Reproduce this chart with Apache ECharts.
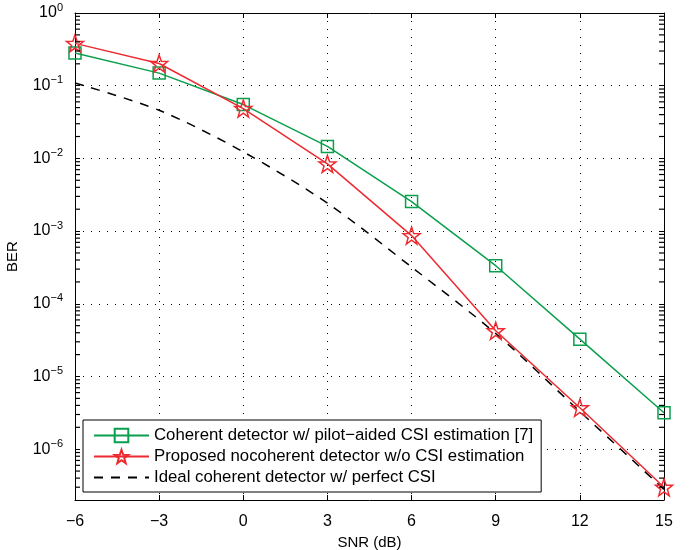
<!DOCTYPE html>
<html>
<head>
<meta charset="utf-8">
<script src="https://cdn.jsdelivr.net/npm/echarts@6/dist/echarts.min.js"></script>
<style>
  html, body { margin: 0; padding: 0; background: #fff; }
  #chart { width: 694px; height: 550px; }
</style>
</head>
<body>
<div id="chart"></div>
<script>
// SNR points (dB)
var snr = [-6, -3, 0, 3, 6, 9, 12, 15];

// BER
var coherent = [0.281, 0.149, 0.055, 0.0146, 0.00255, 3.34e-4, 3.26e-5, 3.17e-6];
var proposed = [0.382, 0.202, 0.0485, 0.0084, 8.67e-4, 4.25e-5, 3.71e-6, 2.99e-7];
var ideal = [0.109, 0.0459, 0.0123, 0.00242, 3.2e-4, 3.9e-5, 3.3e-6, 2.8e-7];

// decades for the log minor ticks (2..9 x 10^k)
var decades = [1e-7, 1e-6, 1e-5, 1e-4, 1e-3, 1e-2, 1e-1];
var minorSteps = [2, 3, 4, 5, 6, 7, 8, 9];

var names = [
  "Coherent detector w/ pilot\u2212aided CSI estimation [7]",
  "Proposed nocoherent detector w/o CSI estimation",
  "Ideal coherent detector w/ perfect CSI"
];

var font = "Liberation Sans";
var green = "#0a9f4c";
var red = "#ec2a30";
var yMin = 2e-7, yMax = 1;
var xMin = -6, xMax = 15;

function zip(xs, ys) {
  return xs.map(function (x, i) { return [x, ys[i]]; });
}

// five point star as svg path
function starPath() {
  var pts = [];
  for (var i = 0; i < 10; i++) {
    var r = i % 2 === 0 ? 50 : 20;
    var a = -Math.PI / 2 + i * Math.PI / 5;
    pts.push((50 + r * Math.cos(a)).toFixed(2) + "," + (50 + r * Math.sin(a)).toFixed(2));
  }
  return "path://M" + pts.join("L") + "Z";
}

var minorLeft = [], minorRight = [];
decades.forEach(function (d) {
  minorSteps.forEach(function (m) {
    var v = d * m;
    if (v > yMin && v < yMax) {
      minorLeft.push([xMin, v]);
      minorRight.push([xMax, v]);
    }
  });
});

var myChart = echarts.init(document.getElementById("chart"));

var yLabel = {
  fontFamily: font,
  color: "#000",
  margin: 12,
  formatter: function (v) {
    var e = Math.log10(v);
    if (Math.abs(e - Math.round(e)) > 1e-6) return "";
    e = Math.round(e);
    var s = e < 0 ? "\u2212" + (-e) : "" + e;
    return "{b|10}{s|" + s + "}";
  },
  rich: {
    b: { fontSize: 16, fontFamily: font, color: "#000" },
    s: { fontSize: 11, fontFamily: font, color: "#000", padding: [0, 0, 11, 0] }
  }
};

var boxTick = { inside: true, length: 5, lineStyle: { color: "#000", width: 1 } };

// short inside ticks at 2..9 x 10^k, left and right frame
function minorSeries(data, dx) {
  return {
    name: "minor",
    type: "scatter",
    silent: true,
    clip: false,
    data: data,
    symbol: "rect",
    symbolSize: [5, 1.2],
    symbolOffset: [dx, 0],
    itemStyle: { color: "#000", opacity: 1 },
    z: 5
  };
}

myChart.setOption({
  animation: false,
  backgroundColor: "#fff",
  grid: { left: 75, right: 30, top: 13, bottom: 50, outerBoundsMode: "none" },
  legend: {
    orient: "vertical",
    left: 83,
    top: 420,
    padding: [7, 8, 6, 10],
    itemGap: 4,
    itemWidth: 55,
    itemHeight: 17,
    backgroundColor: "#fff",
    borderColor: "#000",
    borderWidth: 1,
    borderRadius: 0,
    textStyle: { fontFamily: font, fontSize: 16.8, color: "#000" },
    data: names
  },
  xAxis: [
    {
      type: "value",
      min: xMin,
      max: xMax,
      interval: 3,
      name: "SNR (dB)",
      nameLocation: "middle",
      nameGap: 34,
      nameTextStyle: { fontFamily: font, fontSize: 15, color: "#000" },
      axisLine: { onZero: false, lineStyle: { color: "#000", width: 1 } },
      axisTick: boxTick,
      axisLabel: {
        fontFamily: font, fontSize: 16, color: "#000", margin: 14,
        formatter: function (v) { return v < 0 ? "\u2212" + (-v) : "" + v; }
      },
      splitLine: { show: true, lineStyle: { color: "#000", type: [1, 7], width: 1 } }
    },
    {
      type: "value",
      position: "top",
      min: xMin,
      max: xMax,
      interval: 3,
      axisLine: { onZero: false, lineStyle: { color: "#000", width: 1 } },
      axisTick: boxTick,
      axisLabel: { show: false },
      splitLine: { show: false }
    }
  ],
  yAxis: [
    {
      type: "log",
      logBase: 10,
      min: yMin,
      max: yMax,
      name: "BER",
      nameLocation: "middle",
      nameGap: 55,
      nameTextStyle: { fontFamily: font, fontSize: 15, color: "#000" },
      axisLine: { show: true, onZero: false, lineStyle: { color: "#000", width: 1 } },
      axisTick: boxTick,
      axisLabel: yLabel,
      splitLine: { show: true, lineStyle: { color: "#000", type: [1, 7], width: 1 } }
    },
    {
      type: "log",
      logBase: 10,
      min: yMin,
      max: yMax,
      position: "right",
      axisLine: { show: true, onZero: false, lineStyle: { color: "#000", width: 1 } },
      axisTick: boxTick,
      axisLabel: { show: false },
      splitLine: { show: false }
    }
  ],
  series: [
    {
      name: names[0],
      type: "line",
      data: zip(snr, coherent),
      symbol: "rect",
      symbolSize: 12,
      lineStyle: { color: green, width: 1.5 },
      itemStyle: { color: "rgba(255,255,255,0)", borderColor: green, borderWidth: 1.5 },
      z: 3
    },
    {
      name: names[1],
      type: "line",
      data: zip(snr, proposed),
      symbol: starPath(),
      symbolSize: 17,
      lineStyle: { color: red, width: 1.5 },
      itemStyle: { color: "rgba(255,255,255,0)", borderColor: red, borderWidth: 1.5 },
      z: 4
    },
    {
      name: names[2],
      type: "line",
      data: zip(snr, ideal),
      symbol: "circle",
      showSymbol: false,
      smooth: 0.3,
      lineStyle: { color: "#000", width: 1.5, type: [9, 8] },
      itemStyle: { color: "rgba(0,0,0,0)", borderWidth: 0 },
      z: 2
    },
    minorSeries(minorLeft, 2.5),
    minorSeries(minorRight, -2.5)
  ]
});
</script>
</body>
</html>
